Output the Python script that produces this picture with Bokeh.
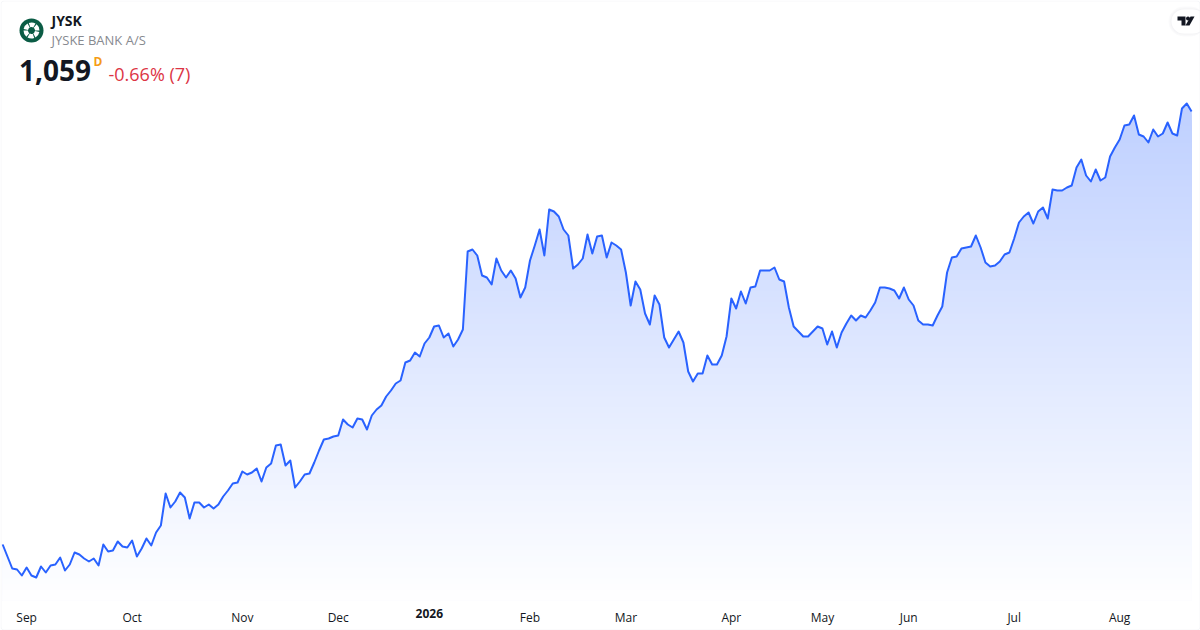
import numpy as np
from bokeh.plotting import figure
from bokeh.embed import file_html
from bokeh.resources import INLINE
from bokeh.models import Range1d, FixedTicker, Label, BoxAnnotation, LinearAxis

prices = [
626,614,602,601,595,603,595,593,604,598,605,606,613,600,606,618,616,612,609,612,
605,626,619,620,629,624,623,630,614,622,632,625,638,645,677,663,669,678,673,652,
668,668,663,666,662,666,674,680,687,688,699,696,698,702,689,703,707,725,726,705,
710,683,689,696,697,708,720,731,732,734,735,751,746,743,752,751,741,755,761,765,
774,780,787,790,808,810,818,814,827,833,844,845,833,837,824,831,841,919,921,915,
895,893,886,912,900,893,900,892,873,883,910,925,941,915,961,959,954,941,935,902,
906,912,936,917,934,935,913,928,925,921,898,865,889,881,857,846,875,866,833,823,
831,839,828,799,789,797,797,815,806,806,815,834,872,862,879,867,883,884,900,900,
900,903,891,889,863,844,839,834,834,839,844,842,826,839,823,838,847,855,850,855,
853,860,868,883,883,882,880,872,883,871,865,850,846,846,845,855,864,898,913,914,
922,923,924,935,923,908,904,905,909,916,918,932,948,954,958,947,959,963,952,981,
980,980,983,985,1003,1011,995,989,1001,990,993,1014,1023,1031,1045,1046,1055,1036,1034,1028,
1041,1034,1037,1048,1037,1035,1062,1067,1059,
]
tick_idx = [5, 27, 50, 70, 110, 130, 152, 171, 189, 211, 233]
tick_txt = ["Sep", "Oct", "Nov", "Dec", "Feb", "Mar", "Apr", "May", "Jun", "Jul", "Aug"]
year_idx = 89
year_txt = "2026"
symbol = "JYSK"
name = "JYSKE BANK A/S"
last = "1,059"
interval = "D"
change = "-0.66% (7)"
BASE = 570
X0 = -0.45

W, H = 1200, 630
p = figure(width=W, height=H, frame_width=W, frame_height=H,
           output_backend="svg", toolbar_location=None,
           x_range=Range1d(X0, X0 + W / 4.794), y_range=Range1d(540, 1170),
           min_border=0, min_border_left=0, min_border_right=0, min_border_top=0,
           min_border_bottom=0,
           background_fill_color="white", border_fill_color="white",
           outline_line_color=None, x_axis_location=None, y_axis_location=None)
p.grid.visible = False

def make_axis(ticks, labels, style):
    ax = LinearAxis(ticker=FixedTicker(ticks=ticks),
                    major_label_overrides=dict(zip(ticks, labels)),
                    fixed_location=BASE,
                    axis_line_color=None, major_tick_line_color=None, minor_tick_line_color=None,
                    major_tick_out=0, major_tick_in=0, major_label_standoff=8,
                    major_label_text_font="Open Sans", major_label_text_font_size="12px",
                    major_label_text_font_style=style, major_label_text_color="#131722")
    p.add_layout(ax, "below")
make_axis(tick_idx, tick_txt, "normal")
make_axis([year_idx], [year_txt], "bold")

def px(x):
    return X0 + x / 4.794
def py(y):
    return 1170 - y

X = np.arange(len(prices))
Y = np.array(prices, dtype=float)

# gradient under the line
top = Y.max()
levels = np.linspace(top, BASE, 91)
for k, lv in enumerate(levels[:-1]):
    a = 0.3 * (1 - k / 90)
    r, g, b = [int(round(255 - a * (255 - c))) for c in (41, 98, 255)]
    p.varea(X, np.full(len(X), BASE), np.minimum(Y, lv), fill_color=f"#{r:02x}{g:02x}{b:02x}")

p.line(X, Y, line_color="#2962ff", line_width=2, line_join="round")

# header
p.circle(px(31), py(30), radius=12, radius_units="screen", fill_color="#0b5c45", line_color=None)
angs = np.deg2rad(np.arange(0, 360, 60))
p.annular_wedge(px(31), py(30), inner_radius=3.5, outer_radius=8,
                inner_radius_units="screen", outer_radius_units="screen",
                start_angle=angs, end_angle=angs + np.deg2rad(50),
                fill_color="white", line_color=None)

def lab(x, y, text, size, color, style="normal"):
    p.add_layout(Label(x=px(x), y=py(y), text=text, text_font="Open Sans", text_font_size=size,
                       text_color=color, text_font_style=style, text_baseline="alphabetic"))
lab(51, 20, symbol, "14px", "#131722", "bold")
lab(51, 39, name, "13px", "#878a90")
lab(18.5, 70, last, "28px", "#131722", "bold")
lab(93, 61, interval, "12px", "#f59c16", "bold")
lab(108, 73, change, "18px", "#dc3545")

def box(l, r, t, b, **kw):
    p.add_layout(BoxAnnotation(left=px(l), right=px(r), top=py(t), bottom=py(b), **kw))
for d, c in ((3, "#fbfbfc"), (2, "#f8f8f9"), (1, "#f4f4f6")):
    box(1171-d, 1205, 9-d, 33+d, fill_color=c, fill_alpha=1, line_color=None,
        border_radius=12+d, level="underlay")
box(1171, 1205, 9, 33, fill_color="white", fill_alpha=1, line_color=None,
    border_radius=12, level="underlay")
box(0.5, 1199.5, 0.5, 629.5, fill_alpha=0, line_color="#e0e3eb", line_width=1, border_radius=3)
tv = [[(1177,16),(1185,16),(1185,25),(1181,25),(1181,20),(1177,20)],
      [(1190,16),(1194,16),(1189,25),(1185,25)]]
p.patches([[px(a) for a, _ in s] for s in tv], [[py(b) for _, b in s] for s in tv],
          fill_color="#131722", line_color=None)
p.scatter(px(1187.5), py(18), size=4, fill_color="#131722", line_color=None)

open("out.html", "w").write(file_html(p, INLINE))
